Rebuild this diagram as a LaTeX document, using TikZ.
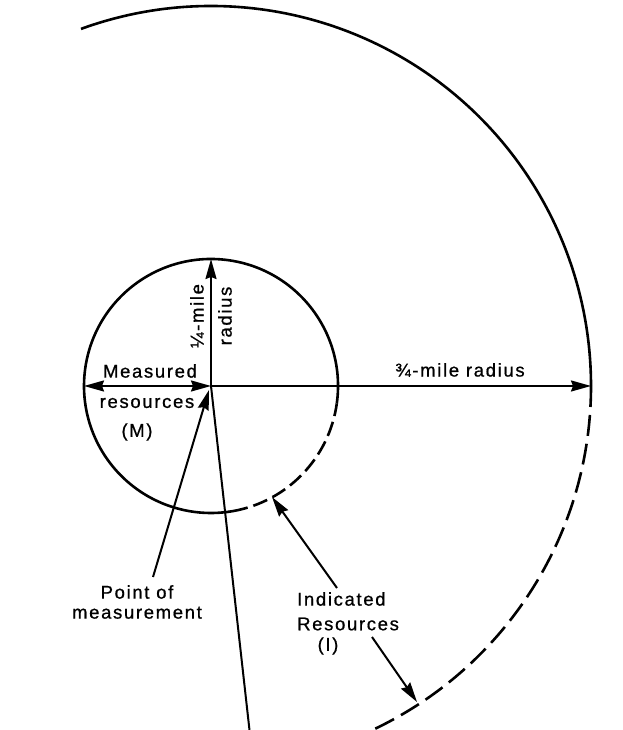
\documentclass[tikz,border=0pt]{standalone}
\usepackage{fontspec}
\setmainfont{Liberation Sans}[LetterSpace=9,FakeBold=0.8]
\usetikzlibrary{arrows.meta,calc}
\begin{document}
\begin{tikzpicture}[x=1pt,y=1pt,
  circ/.style={line width=2.6pt},
  dcirc/.style={line width=2.6pt,dash pattern=on 15pt off 6pt},
  bdcirc/.style={line width=2.6pt,dash pattern=on 21pt off 8pt},
  ln/.style={line width=2pt},
  arr/.style={ln,-{Stealth[length=20pt,width=11pt,inset=2pt]}},
  lab/.style={inner sep=0pt,font=\fontsize{18.5}{20}\selectfont},
]
\clip (0,0) rectangle (623,730);
\fill[white] (0,0) rectangle (623,730);
\coordinate (C) at (211,344);
% circles
\draw[circ] (C) ++(-8:127) arc[start angle=-8,end angle=280,radius=127];
\draw[dcirc] (C) ++(-80:127) arc[start angle=-80,end angle=-8,radius=127];
\draw[circ] (C) ++(110:380) arc[start angle=110,end angle=0,radius=380];
\draw[bdcirc] (C) ++(0:380) arc[start angle=0,end angle=-67,radius=380];
% coordinates
\coordinate (L) at ($(C)+(-127,0)$);
\coordinate (T) at ($(C)+(0,127)$);
\coordinate (R) at ($(C)+(380,0)$);
\coordinate (B) at (250.6,-10);
\coordinate (pmtip) at (209,340);
\coordinate (iutip) at (272,233);
\coordinate (idtip) at (417,28);
% labels
\node[lab] (meas) at (150,359) {Measured};
\node[lab] (res) at (147,327) {resources};
\node[lab] (M) at (137,298) {(M)};
\node[lab,rotate=90] (qm) at (197,414) {¼-mile};
\node[lab,rotate=90] (rad) at (225,414) {radius};
\node[lab] (tq) at (460,360) {¾-mile radius};
\node[lab,align=center] (pm) at (137,128) {Point of\\measurement};
\node[lab,anchor=west] (ind) at (297,131) {Indicated};
\node[lab,anchor=west] (ires) at (297,106) {Resources};
\node[lab] (I) at (328,84) {(I)};
\coordinate (pmfrom) at (153,153);
\coordinate (iufrom) at (337,142);
\coordinate (idfrom) at (372,93);
% connectors
\draw[ln,{Stealth[length=20pt,width=11pt,inset=2pt]}-{Stealth[length=20pt,width=11pt,inset=2pt]}] (L) -- (C);
\draw[arr] (C) -- (R);
\draw[arr] (C) -- (T);
\draw[ln] (C) -- (B);
\draw[arr] (pmfrom) -- (pmtip);
\draw[arr] (iufrom) -- (iutip);
\draw[arr] (idfrom) -- (idtip);
\end{tikzpicture}
\end{document}
